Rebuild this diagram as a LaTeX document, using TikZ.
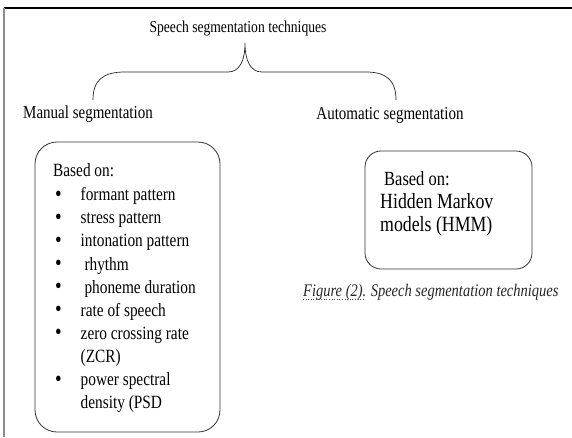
\documentclass[tikz,border=0pt]{standalone}
\usepackage{fontspec}
\setmainfont{Liberation Serif}[FakeStretch=0.82]
\usetikzlibrary{calc}

\newcommand{\itembul}{\makebox[25.5pt][l]{\raisebox{-0.5pt}{\fontsize{23}{23}\selectfont\textbullet}}}

\tikzset{
  heading/.style={anchor=base, inner sep=0pt, font=\fontsize{18.3}{21}\selectfont},
  listline/.style={anchor=base west, inner sep=0pt, font=\fontsize{18.7}{22}\selectfont},
  hmmline/.style={anchor=base west, inner sep=0pt, font=\fontsize{21.7}{25}\selectfont},
  roundbox/.style={draw=black!80, line width=0.8pt, inner sep=0pt}
}

\begin{document}
\begin{tikzpicture}[x=1pt, y=-1pt]
\useasboundingbox (0,0) rectangle (572,437);

% page frame
\draw [line width=1.2pt] (4,8) -- (572,8);
\draw [line width=1.8pt, black!45] (4,8) -- (4,437);

\node [heading, font=\fontsize{16.6}{19}\selectfont] at (238, 32) (title) {Speech segmentation techniques};

% the brace
\coordinate (tip) at (245, 43);
\coordinate (lend) at (93, 100);
\coordinate (rend) at (396, 100);
\draw [line width=0.7pt, black!85] (lend) .. controls (93,80) and (103,72) .. (125,72) -- (228,72)
   .. controls (240,72) and (245,60) .. (tip) .. controls (245,60) and (250,72) .. (262,72)
   -- (366,72) .. controls (386,72) and (396,80) .. (rend);

\node [heading] at (88, 118) (manual) {Manual segmentation};
\node [heading] at (390, 119) (autoseg) {Automatic segmentation};

% manual box
\node [roundbox, rounded corners=22pt, minimum width=185pt, minimum height=290pt] at (127.5, 287) (mbox) {};
\node [listline] at (53, 176.7) (mbased) {Based on:};
\node [listline] at (55, 200.7) (l1) {\itembul formant pattern};
\node [listline] at (55, 223.8) (l2) {\itembul stress pattern};
\node [listline] at (55, 246.9) (l3) {\itembul intonation pattern};
\node [listline] at (55, 270.0) (l4) {\itembul\ rhythm};
\node [listline] at (55, 293.1) (l5) {\itembul\ phoneme duration};
\node [listline] at (55, 316.2) (l6) {\itembul rate of speech};
\node [listline] at (55, 339.3) (l7) {\itembul zero crossing rate};
\node [listline] at (80.5, 362.4) (l7b) {(ZCR)};
\node [listline] at (55, 385.5) (l8) {\itembul power spectral};
\node [listline] at (80.5, 408.6) (l8b) {density (PSD};

% automatic box
\node [roundbox, rounded corners=16pt, minimum width=167pt, minimum height=118pt] at (448.5, 210) (abox) {};
\node [hmmline, font=\fontsize{20.1}{24}\selectfont] at (384, 185) (abased) {Based on:};
\node [hmmline] at (380, 208) (hmm1) {Hidden Markov};
\node [hmmline] at (380, 231) (hmm2) {models (HMM)};

% caption
\node [anchor=base west, inner sep=0pt, font=\fontsize{17.7}{21}\itshape, black!85] at (303, 296) (figno) {Figure (2).};
\node [anchor=base west, inner sep=0pt, font=\fontsize{17.7}{21}\itshape, black!85] at ($(figno.base east)+(4,0)$) (capt) {Speech segmentation techniques};
\draw [dotted, line width=0.6pt, green!50!black] ($(figno.base west)+(0,3)$) -- ($(figno.base east)+(-2,3)$);

\end{tikzpicture}
\end{document}
